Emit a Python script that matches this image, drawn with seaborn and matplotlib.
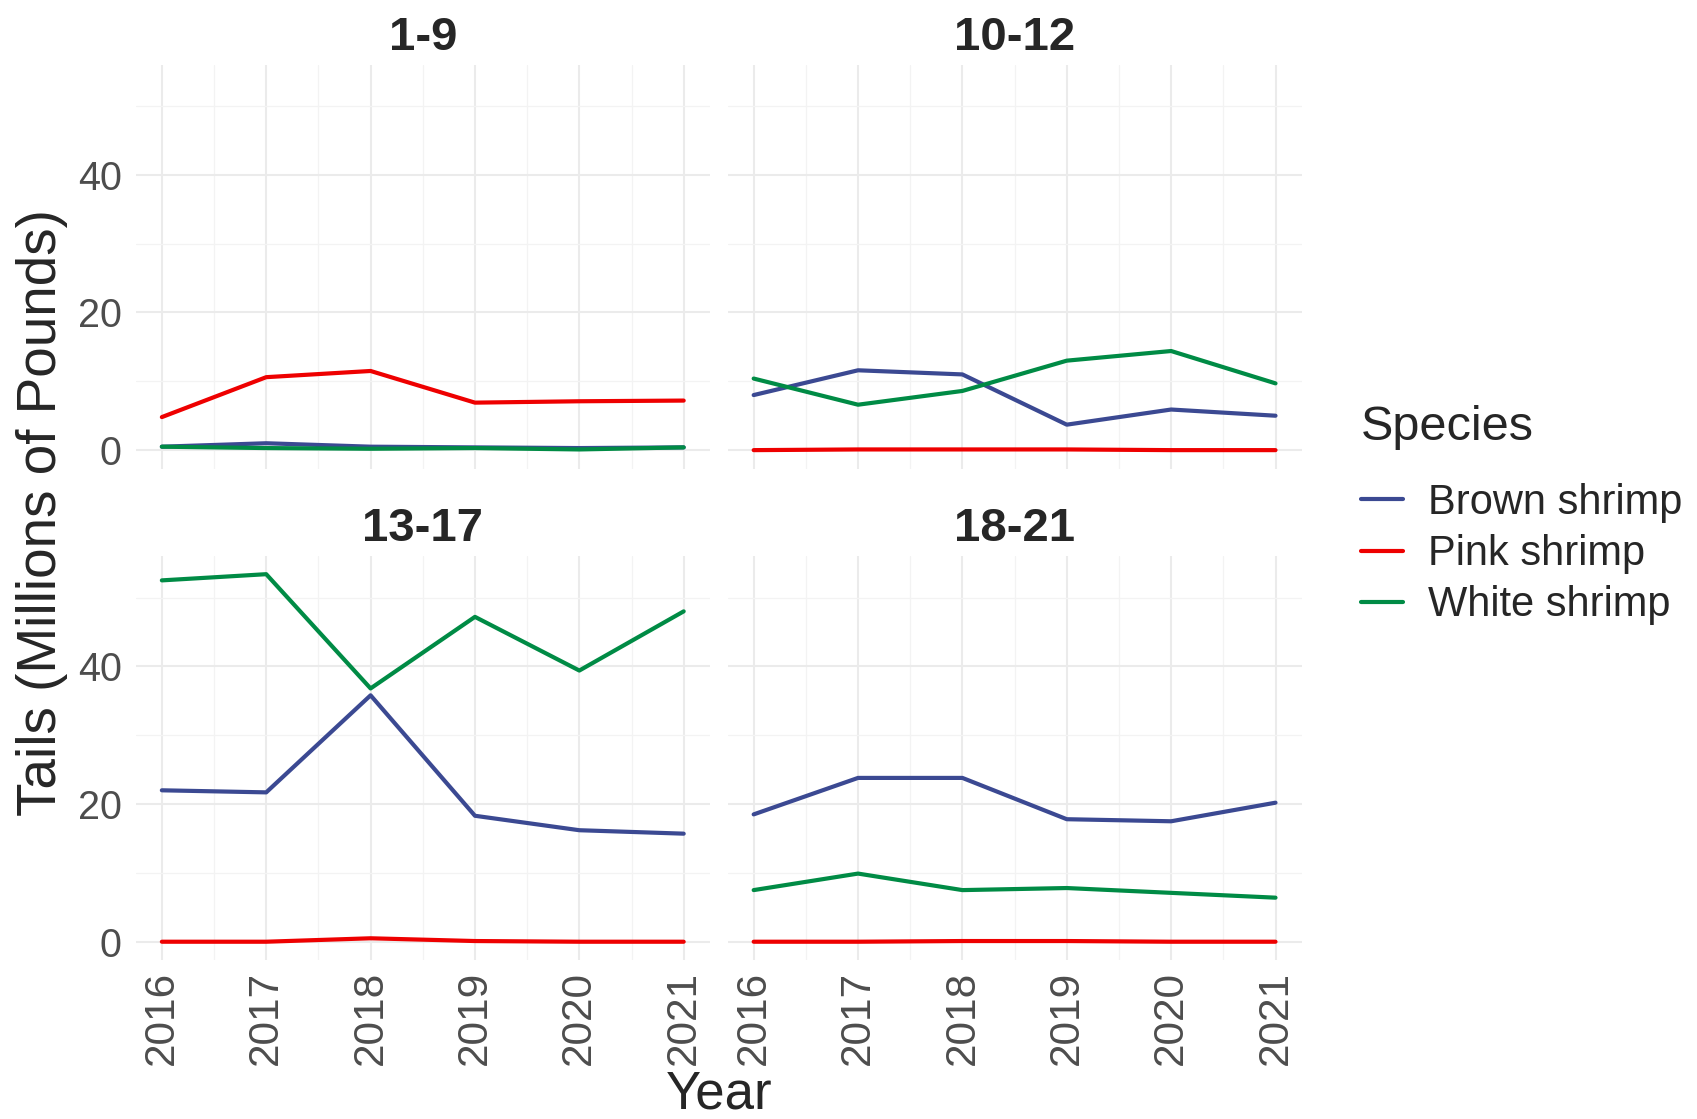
import pandas as pd
import matplotlib.pyplot as plt
import seaborn as sns
from matplotlib.ticker import MultipleLocator

# Estilo parecido a theme_minimal de ggplot
sns.set_theme(style="whitegrid")
plt.rcParams['font.family'] = ['Liberation Sans', 'DejaVu Sans']

years = [2016, 2017, 2018, 2019, 2020, 2021]
areas = ['1-9', '10-12', '13-17', '18-21']
species = ['Brown shrimp', 'Pink shrimp', 'White shrimp']

# Tails (millions of pounds) por area
brown_1_9 = [0.5, 1.0, 0.5, 0.4, 0.3, 0.4]
pink_1_9 = [4.8, 10.6, 11.5, 6.9, 7.1, 7.2]
white_1_9 = [0.5, 0.3, 0.2, 0.3, 0.1, 0.4]

brown_10_12 = [8.0, 11.6, 11.0, 3.7, 5.9, 5.0]
pink_10_12 = [0.0, 0.1, 0.1, 0.1, 0.0, 0.0]
white_10_12 = [10.4, 6.6, 8.6, 13.0, 14.4, 9.7]

brown_13_17 = [22.0, 21.7, 35.8, 18.3, 16.2, 15.7]
pink_13_17 = [0.0, 0.0, 0.5, 0.1, 0.0, 0.0]
white_13_17 = [52.5, 53.4, 36.8, 47.2, 39.4, 48.0]

brown_18_21 = [18.5, 23.8, 23.8, 17.8, 17.5, 20.2]
pink_18_21 = [0.0, 0.0, 0.1, 0.1, 0.0, 0.0]
white_18_21 = [7.5, 9.9, 7.5, 7.8, 7.1, 6.4]

palette = {'Brown shrimp': '#3B4992', 'Pink shrimp': '#EE0000', 'White shrimp': '#008B45'}


def build_df():
    series = {
        '1-9': [brown_1_9, pink_1_9, white_1_9],
        '10-12': [brown_10_12, pink_10_12, white_10_12],
        '13-17': [brown_13_17, pink_13_17, white_13_17],
        '18-21': [brown_18_21, pink_18_21, white_18_21],
    }
    rows = []
    for area in areas:
        for sp, vals in zip(species, series[area]):
            for yr, v in zip(years, vals):
                rows.append({'Area': area, 'Species': sp, 'Year': yr, 'Tails': v})
    return pd.DataFrame(rows)


df = build_df()

g = sns.relplot(data=df, x='Year', y='Tails', hue='Species', col='Area', col_order=areas,
                col_wrap=2, kind='line', palette=palette, hue_order=species,
                linewidth=3.0, height=4, aspect=1.4)

g.figure.set_size_inches(16.97, 11.19)
g.set_titles('{col_name}', fontweight='bold', size=34, pad=11)
g.set(xlim=(2015.75, 2021.25), ylim=(-2.67, 55.97), xlabel='', ylabel='')

for ax in g.axes.flat:
    ax.set_xticks(years)
    ax.set_yticks([0, 20, 40])
    ax.xaxis.set_minor_locator(MultipleLocator(0.5))
    ax.yaxis.set_minor_locator(MultipleLocator(10))
    ax.grid(True, which='major', color='#EBEBEB', linewidth=1.5)
    ax.grid(True, which='minor', color='#F3F3F3', linewidth=0.9)
    ax.set_axisbelow(True)
    for s in ax.spines.values():
        s.set_visible(False)
    ax.tick_params(axis='both', which='both', length=0, labelcolor='#4D4D4D')
    ax.tick_params(axis='y', pad=10, labelsize=28.5)
    ax.tick_params(axis='x', pad=8, labelrotation=90, labelsize=30.5)

sns.move_legend(g, 'upper left', bbox_to_anchor=(0.780, 0.672), title='Species',
                fontsize=30, title_fontsize=35, frameon=False, handlelength=1.0,
                handletextpad=0.6, labelspacing=0.27, alignment='left')
for line in g._legend.get_lines():
    line.set_linewidth(3)
# separar un poco mas el titulo de las entradas
g._legend._legend_box.sep = 24

g.figure.subplots_adjust(left=0.080, right=0.767, top=0.942, bottom=0.142,
                         wspace=0.031, hspace=0.218)

g.figure.text(0.025, 0.542, 'Tails (Millions of Pounds)', rotation=90, fontsize=39.5,
              ha='center', va='center')
g.figure.text(0.424, 0.022, 'Year', fontsize=38, ha='center', va='center')

g.figure.savefig('out.png', dpi=100, facecolor='white')
